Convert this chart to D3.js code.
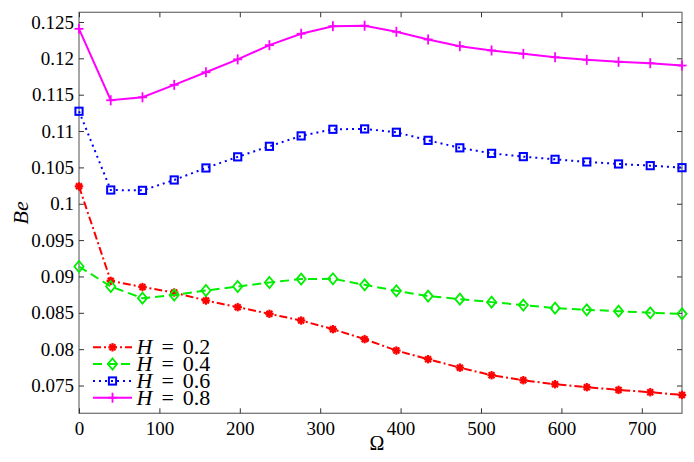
<!DOCTYPE html>
<html><head><meta charset="utf-8">
<script src="https://cdn.jsdelivr.net/npm/d3@7"></script>
<style>body{margin:0;background:#fff}svg{display:block}</style>
</head><body>
<svg id="c" width="694" height="462"></svg>
<script>
const omega = [0,39.47,78.95,118.42,157.89,197.37,236.84,276.32,315.79,355.26,394.74,434.21,473.68,513.16,552.63,592.11,631.58,671.05,710.53,750];
const h02 = [0.10239,0.08940,0.08854,0.08779,0.08669,0.08578,0.08486,0.08394,0.08275,0.08138,0.07981,0.07862,0.07746,0.07642,0.07573,0.07518,0.07477,0.07440,0.07408,0.07371];
const h04 = [0.09137,0.08862,0.08702,0.08744,0.08807,0.08862,0.08917,0.08964,0.08968,0.08885,0.08803,0.08730,0.08688,0.08647,0.08606,0.08564,0.08541,0.08523,0.08500,0.08486];
const h06 = [0.11272,0.10189,0.10184,0.10327,0.10492,0.10645,0.10790,0.10933,0.11024,0.11029,0.10983,0.10872,0.10769,0.10693,0.10648,0.10611,0.10575,0.10547,0.10524,0.10496];
const h08 = [0.12406,0.11423,0.11464,0.11635,0.11809,0.11986,0.12181,0.12338,0.12442,0.12448,0.12365,0.12259,0.12167,0.12108,0.12062,0.12015,0.11979,0.11952,0.11933,0.11901];
const seriesNames = ["H = 0.2","H = 0.4","H = 0.6","H = 0.8"];
const xTicks = [0,100,200,300,400,500,600,700];
const yTicks = [0.075,0.08,0.085,0.09,0.095,0.1,0.105,0.11,0.115,0.12,0.125];
const yTickLabels = ["0.075","0.08","0.085","0.09","0.095","0.1","0.105","0.11","0.115","0.12","0.125"];

const FONT = "Liberation Serif";
const svg = d3.select("#c");
const L=79, R=682, T=12.3, B=413.3;
const x = d3.scaleLinear().domain([0,750]).range([L,R]);
const y = d3.scaleLinear().domain([0.07118,0.12633]).range([B,T]);

const styles = [
  {data:h02, color:"#ff0000", dash:"8,3,2,3", marker:"star"},
  {data:h04, color:"#00ee00", dash:"9,5", marker:"diamond"},
  {data:h06, color:"#0000ff", dash:"2,4", marker:"square"},
  {data:h08, color:"#ff00ff", dash:null, marker:"plus"}
];

svg.append("rect").attr("x",L).attr("y",T).attr("width",R-L).attr("height",B-T)
  .attr("fill","none").attr("stroke","#777").attr("stroke-width",1.3);

const xAxisB = d3.axisBottom(x).tickValues(xTicks).tickSizeInner(-5).tickSizeOuter(0).tickPadding(8).tickFormat(d3.format("d"));
const gxb = svg.append("g").attr("transform",`translate(0,${B})`).call(xAxisB);
const xAxisT = d3.axisTop(x).tickValues(xTicks).tickSizeInner(-5).tickSizeOuter(0).tickFormat("");
const gxt = svg.append("g").attr("transform",`translate(0,${T})`).call(xAxisT);
const yAxisL = d3.axisLeft(y).tickValues(yTicks).tickSizeInner(-5).tickSizeOuter(0).tickPadding(5)
  .tickFormat((d,i)=>yTickLabels[i]);
const gyl = svg.append("g").attr("transform",`translate(${L},0)`).call(yAxisL);
const yAxisR = d3.axisRight(y).tickValues(yTicks).tickSizeInner(-5).tickSizeOuter(0).tickFormat("");
const gyr = svg.append("g").attr("transform",`translate(${R},0)`).call(yAxisR);
[gxb,gxt,gyl,gyr].forEach(g=>{
  g.attr("font-family",FONT).attr("font-size",19);
  g.select(".domain").remove();
  g.selectAll(".tick line").attr("stroke","#333").attr("stroke-width",1);
  g.selectAll("text").attr("fill","#000").attr("font-family",FONT).attr("font-size",19);
});

const line = d3.line().x((d,i)=>x(omega[i])).y(d=>y(d));
function drawMarker(g, type, color, cx, cy){
  if(type==="star"){
    const r=4.2;
    for(let k=0;k<4;k++){
      const a=k*Math.PI/4;
      g.append("line").attr("x1",cx-r*Math.cos(a)).attr("y1",cy-r*Math.sin(a))
        .attr("x2",cx+r*Math.cos(a)).attr("y2",cy+r*Math.sin(a))
        .attr("stroke",color).attr("stroke-width",2.2);
    }
    g.append("circle").attr("cx",cx).attr("cy",cy).attr("r",2.6).attr("fill",color);
  } else if(type==="diamond"){
    g.append("path").attr("d",`M${cx},${cy-5.5}L${cx+4.6},${cy}L${cx},${cy+5.5}L${cx-4.6},${cy}Z`)
      .attr("fill","none").attr("stroke",color).attr("stroke-width",1.8);
  } else if(type==="square"){
    g.append("rect").attr("x",cx-3.6).attr("y",cy-3.6).attr("width",7.2).attr("height",7.2)
      .attr("fill","none").attr("stroke",color).attr("stroke-width",2);
  } else if(type==="plus"){
    g.append("line").attr("x1",cx-4.5).attr("y1",cy).attr("x2",cx+4.5).attr("y2",cy).attr("stroke",color).attr("stroke-width",1.8);
    g.append("line").attr("x1",cx).attr("y1",cy-5).attr("x2",cx).attr("y2",cy+5).attr("stroke",color).attr("stroke-width",1.8);
  }
}
styles.forEach(s=>{
  const p = svg.append("path").datum(s.data).attr("d",line).attr("fill","none")
    .attr("stroke",s.color).attr("stroke-width",2);
  if(s.dash) p.attr("stroke-dasharray",s.dash);
  const g = svg.append("g");
  s.data.forEach((v,i)=>drawMarker(g,s.marker,s.color,x(omega[i]),y(v)));
});

const legY=[347.3,364,381,397.7];
styles.forEach((s,i)=>{
  const g=svg.append("g");
  const ln=g.append("line").attr("x1",93).attr("x2",132).attr("y1",legY[i]).attr("y2",legY[i])
    .attr("stroke",s.color).attr("stroke-width",2);
  if(s.dash) ln.attr("stroke-dasharray",s.dash);
  drawMarker(g,s.marker,s.color,112.5,legY[i]);
  const parts = seriesNames[i].split(" = ");
  const t=g.append("text").attr("x",136.5).attr("y",legY[i]+7)
    .attr("font-family",FONT).attr("font-size",22).attr("fill","#000");
  t.append("tspan").attr("font-style","italic").text(parts[0]);
  t.append("tspan").attr("dx",3.5).text(" = ");
  t.append("tspan").attr("dx",3.5).text(parts[1]);
});

svg.append("text").attr("x",377).attr("y",449.5).attr("text-anchor","middle")
  .attr("font-family",FONT).attr("font-size",20).attr("fill","#000").text("Ω");
svg.append("text").attr("transform","translate(28,212.8) rotate(-90)").attr("text-anchor","middle")
  .attr("font-family",FONT).attr("font-size",22).attr("font-style","italic").attr("fill","#000").text("Be");
</script>
</body></html>
